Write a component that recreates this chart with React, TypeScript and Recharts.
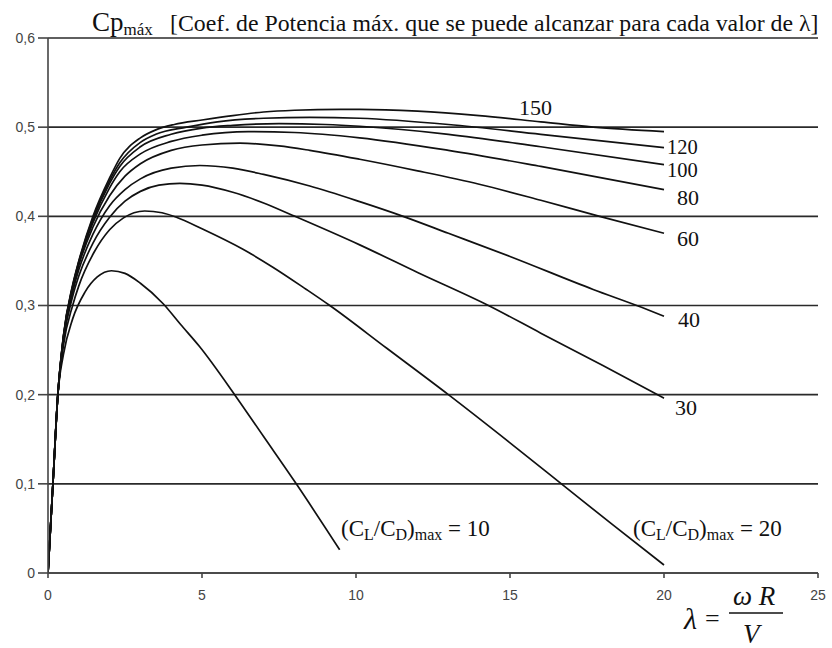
import { LineChart, Line, XAxis, YAxis, CartesianGrid } from "recharts";

// (lambda, Cp) pairs, one list per (CL/CD)max value
const curve10: [number, number][] = [
  [0, 0], [0.16, 0.1], [0.32, 0.2], [0.5, 0.245], [0.8, 0.285], [1.2, 0.315],
  [1.6, 0.332], [2.06, 0.339], [2.5, 0.336], [3.0, 0.325], [3.74, 0.302],
  [4.3, 0.279], [4.92, 0.254], [6.06, 0.2], [7.0, 0.153], [8.06, 0.1], [9.47, 0.026],
];
const curve20: [number, number][] = [
  [0, 0], [0.16, 0.1], [0.32, 0.2], [0.5, 0.255], [0.8, 0.3], [1.0, 0.322],
  [1.5, 0.36], [2.0, 0.385], [2.44, 0.398], [3.14, 0.406], [3.7, 0.404],
  [4.17, 0.399], [5.0, 0.386], [6.33, 0.363], [7.3, 0.343], [8.39, 0.318],
  [9.15, 0.3], [11.0, 0.252], [13.0, 0.2], [15.0, 0.146], [16.67, 0.1],
  [18.3, 0.055], [20.0, 0.009],
];
const curve30: [number, number][] = [
  [0, 0], [0.16, 0.1], [0.32, 0.2], [0.5, 0.26], [0.8, 0.31], [1.0, 0.333],
  [1.46, 0.37], [2.0, 0.399], [2.5, 0.417], [3.0, 0.428], [3.6, 0.435],
  [4.28, 0.437], [5.0, 0.435], [6.0, 0.427], [7.0, 0.415], [7.95, 0.401],
  [10.12, 0.368], [12.0, 0.337], [14.3, 0.3], [16.0, 0.269], [18.0, 0.233],
  [20.0, 0.196],
];
const curve40: [number, number][] = [
  [0, 0], [0.16, 0.1], [0.32, 0.2], [0.5, 0.262], [0.8, 0.315], [1.0, 0.34],
  [1.46, 0.38], [2.0, 0.412], [2.5, 0.43], [3.0, 0.442], [4.0, 0.454],
  [4.93, 0.457], [6.0, 0.454], [7.0, 0.447], [8.5, 0.434], [10.12, 0.4165],
  [11.53, 0.4], [13.0, 0.381], [15.0, 0.355], [17.7, 0.318], [19.27, 0.298],
  [20.0, 0.288],
];
const curve60: [number, number][] = [
  [0, 0], [0.16, 0.1], [0.32, 0.2], [0.5, 0.263], [0.8, 0.318], [1.0, 0.345],
  [1.46, 0.388], [2.0, 0.423], [2.5, 0.445], [3.0, 0.459], [4.0, 0.474],
  [5.0, 0.48], [6.23, 0.482], [7.5, 0.479], [8.5, 0.474], [10.12, 0.464],
  [12.0, 0.451], [14.0, 0.436], [16.0, 0.418], [17.91, 0.4], [20.0, 0.381],
];
const curve80: [number, number][] = [
  [0, 0], [0.16, 0.1], [0.32, 0.2], [0.5, 0.264], [0.8, 0.32], [1.0, 0.347],
  [1.46, 0.393], [2.0, 0.432], [2.33, 0.45], [3.0, 0.47], [4.0, 0.484],
  [5.0, 0.491], [6.5, 0.495], [8.0, 0.494], [10.12, 0.488], [13.0, 0.474],
  [16.0, 0.456], [20.0, 0.43],
];
const curve100: [number, number][] = [
  [0, 0], [0.16, 0.1], [0.32, 0.2], [0.5, 0.265], [0.8, 0.321], [1.0, 0.348],
  [1.46, 0.396], [2.0, 0.437], [2.33, 0.456], [3.0, 0.478], [4.0, 0.492],
  [5.0, 0.499], [6.0, 0.502], [7.5, 0.504], [9.0, 0.503], [10.12, 0.501],
  [13.0, 0.492], [16.0, 0.478], [20.0, 0.458],
];
const curve120: [number, number][] = [
  [0, 0], [0.16, 0.1], [0.32, 0.2], [0.5, 0.265], [0.8, 0.322], [1.0, 0.349],
  [1.46, 0.398], [2.0, 0.44], [2.33, 0.46], [3.0, 0.483], [3.5, 0.492],
  [4.5, 0.5], [5.5, 0.506], [7.0, 0.51], [8.5, 0.511], [10.12, 0.51],
  [13.0, 0.503], [16.0, 0.492], [20.0, 0.477],
];
const curve150: [number, number][] = [
  [0, 0], [0.16, 0.1], [0.32, 0.2], [0.5, 0.266], [0.8, 0.323], [1.0, 0.35],
  [1.46, 0.4], [2.0, 0.443], [2.33, 0.465], [3.0, 0.488], [3.5, 0.497],
  [4.1, 0.503], [5.0, 0.508], [6.0, 0.513], [7.0, 0.517], [8.0, 0.519],
  [9.5, 0.52], [10.12, 0.52], [12.0, 0.518], [14.0, 0.513], [16.0, 0.506],
  [17.7, 0.5], [20.0, 0.495],
];

const curves = [curve10, curve20, curve30, curve40, curve60, curve80, curve100, curve120, curve150];

const xTicks = [0, 5, 10, 15, 20, 25];
const yTicks = [0, 0.1, 0.2, 0.3, 0.4, 0.5, 0.6];

const serif = "'Liberation Serif', 'Times New Roman', serif";
const sans = "'Liberation Sans', Arial, sans-serif";

function toRows(c: [number, number][]) {
  return c.map(([lambda, cp]) => ({ lambda, cp }));
}

function fmtY(v: number) {
  return v === 0 ? "0" : v.toFixed(1).replace(".", ",");
}

function RatioLabel({ x, value }: { x: number; value: string }) {
  return (
    <text x={x} y={536} fontFamily={serif} fontSize={23} fill="#111">
      (C<tspan fontSize={16} dy={4}>L</tspan>
      <tspan dy={-4}>/C</tspan>
      <tspan fontSize={16} dy={4}>D</tspan>
      <tspan dy={-4}>)</tspan>
      <tspan fontSize={16} dy={4}>max</tspan>
      <tspan dy={-4}> = {value}</tspan>
    </text>
  );
}

export default function App() {
  return (
    <div style={{ position: "absolute", left: 0, top: 0, width: 832, height: 648, background: "#fff" }}>
      <LineChart width={832} height={648} margin={{ top: 38, right: 14, bottom: 45, left: 0 }}>
        <CartesianGrid horizontal vertical={false} stroke="#2a2a2a" strokeWidth={1.7} />
        <XAxis
          type="number"
          dataKey="lambda"
          domain={[0, 25]}
          ticks={xTicks}
          height={30}
          tickSize={5}
          tickMargin={12}
          stroke="#444"
          strokeWidth={1.6}
          tick={{ fill: "#444", fontSize: 14, fontFamily: sans }}
          allowDataOverflow
        />
        <YAxis
          type="number"
          domain={[0, 0.6]}
          ticks={yTicks}
          width={48}
          tickSize={10}
          tickMargin={3}
          stroke="#444"
          strokeWidth={1.6}
          tickFormatter={fmtY}
          tick={{ fill: "#444", fontSize: 14, fontFamily: sans }}
        />
        {curves.map((c, i) => (
          <Line
            key={i}
            data={toRows(c)}
            dataKey="cp"
            type="monotone"
            stroke="#111"
            strokeWidth={1.7}
            dot={false}
            isAnimationActive={false}
          />
        ))}
      </LineChart>
      <svg
        width={832}
        height={648}
        style={{ position: "absolute", left: 0, top: 0, pointerEvents: "none" }}
      >
        <text x={92} y={31} fontFamily={serif} fontSize={27} fill="#111">
          Cp<tspan fontSize={17} dy={4}>máx</tspan>
        </text>
        <text x={170} y={31} fontFamily={serif} fontSize={23.8} fill="#111">
          [Coef. de Potencia máx. que se puede alcanzar para cada valor de λ]
        </text>
        <g fontFamily={serif} fontSize={22} fill="#111">
          <text x={519} y={115}>150</text>
          <text x={667} y={154} fontSize={20.5}>120</text>
          <text x={667} y={177} fontSize={20.5}>100</text>
          <text x={677} y={205}>80</text>
          <text x={677} y={246}>60</text>
          <text x={678} y={327}>40</text>
          <text x={675} y={415}>30</text>
        </g>
        <RatioLabel x={341} value="10" />
        <RatioLabel x={633} value="20" />
        <g fontFamily={serif} fill="#111">
          <text x={684} y={629} fontSize={30} fontStyle="italic">λ</text>
          <text x={705} y={627} fontSize={26}>=</text>
          <text x={733} y={605} fontSize={27} fontStyle="italic">ω R</text>
          <line x1={729} y1={613} x2={783} y2={613} stroke="#111" strokeWidth={1.3} />
          <text x={743} y={643} fontSize={27} fontStyle="italic">V</text>
        </g>
      </svg>
    </div>
  );
}
